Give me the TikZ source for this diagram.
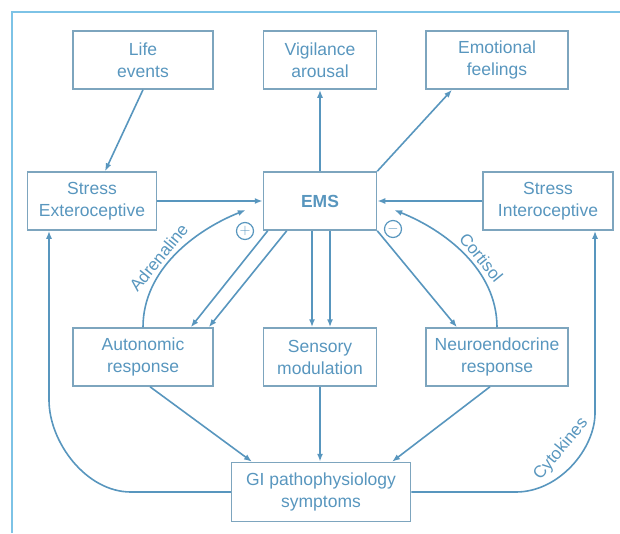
\documentclass[tikz,border=0pt]{standalone}
\usepackage{fontspec}
\setmainfont{Liberation Sans}
\usetikzlibrary{arrows.meta}
\definecolor{diagblue}{RGB}{88,150,190}
\definecolor{boxline}{RGB}{125,165,190}
\definecolor{framecol}{RGB}{125,195,230}
\begin{document}
\begin{tikzpicture}[x=1pt, y=-1pt, >={Latex[length=8pt,width=6pt]},
  box/.style={draw=boxline, line width=1.5pt, text=diagblue, align=center, minimum height=58pt, inner sep=2pt, font=\fontsize{17.5}{22}\selectfont},
  link/.style={draw=diagblue, line width=1.6pt, ->},
  sign/.style={circle, draw=diagblue, line width=1.2pt, inner sep=0pt, minimum size=17pt, text=diagblue, font=\fontsize{15}{15}\selectfont},
  curvelabel/.style={sloped, above, text=diagblue, font=\fontsize{17}{20}\selectfont}]
\useasboundingbox (0,0) rectangle (620,533);
\draw[framecol, line width=1.5pt] (12,533) -- (12,12) -- (620,12);
\node [box, minimum width=140pt] (life) at (143,60) {Life\\events};
\node [box, minimum width=113pt] (vig) at (320,60) {Vigilance\\arousal};
\node [box, minimum width=142pt] (emo) at (497,60) {Emotional\\feelings};
\node [box, minimum width=129pt] (ext) at (92,201) {Stress\\Exteroceptive};
\node [box, minimum width=113pt, font=\fontsize{17.5}{22}\selectfont\bfseries] (ems) at (320,201) {EMS};
\node [box, minimum width=130pt] (int) at (548,201) {Stress\\Interoceptive};
\node [box, minimum width=140pt] (aut) at (143,357) {Autonomic\\response};
\node [box, minimum width=113pt] (sen) at (320,357) {Sensory\\modulation};
\node [box, minimum width=142pt] (neu) at (497,357) {Neuroendocrine\\response};
\node [box, minimum width=179pt, minimum height=59pt] (gi) at (321,492) {GI pathophysiology\\symptoms};
\node [sign] (plus) at (245,231) {$+$};
\node [sign] (minus) at (393,229) {$-$};
\draw[link] (life.south) -- ([xshift=13pt]ext.north);
\draw[link] (ems.north) -- (vig.south);
\draw[link] (ems.north east) -- ([xshift=-45pt]emo.south);
\draw[link] (ext.east) -- (ems.west);
\draw[link] (int.west) -- (ems.east);
\draw[link] ([xshift=5pt]ems.south west) -- ([xshift=-23pt]aut.north east);
\draw[link] ([xshift=24pt]ems.south west) -- ([xshift=-5pt]aut.north east);
\draw[link] ([xshift=-8pt]ems.south) -- ([xshift=-8pt]sen.north);
\draw[link] ([xshift=10pt]ems.south) -- ([xshift=10pt]sen.north);
\draw[link] (ems.south east) -- ([xshift=-40pt]neu.north);
\draw[link] ([xshift=7pt]aut.south) -- ([xshift=-69pt]gi.north);
\draw[link] (sen.south) -- (sen.south |- gi.north);
\draw[link] ([xshift=-7pt]neu.south) -- ([xshift=71pt]gi.north);
\draw[link] (aut.north) .. controls +(0,-58) and +(-50,20) .. ([xshift=-17pt,yshift=-9pt]ems.west)
  node[curvelabel, pos=0.42] {Adrenaline};
\draw[link, <-] ([xshift=17pt,yshift=-9pt]ems.east) .. controls +(50,20) and +(0,-58) .. (neu.north)
  node[curvelabel, pos=0.58] {Cortisol};
\draw[link] (gi.west) -- (131,492) .. controls (86,492) and (49,442) .. (49,400) -- ([xshift=-43pt]ext.south);
\draw[link] (gi.east) -- (516,492) .. controls (559,492) and (595,449) .. (595,413)
  node[curvelabel, pos=0.55, above=7pt] {Cytokines} -- ([xshift=47pt]int.south);
\end{tikzpicture}
\end{document}
